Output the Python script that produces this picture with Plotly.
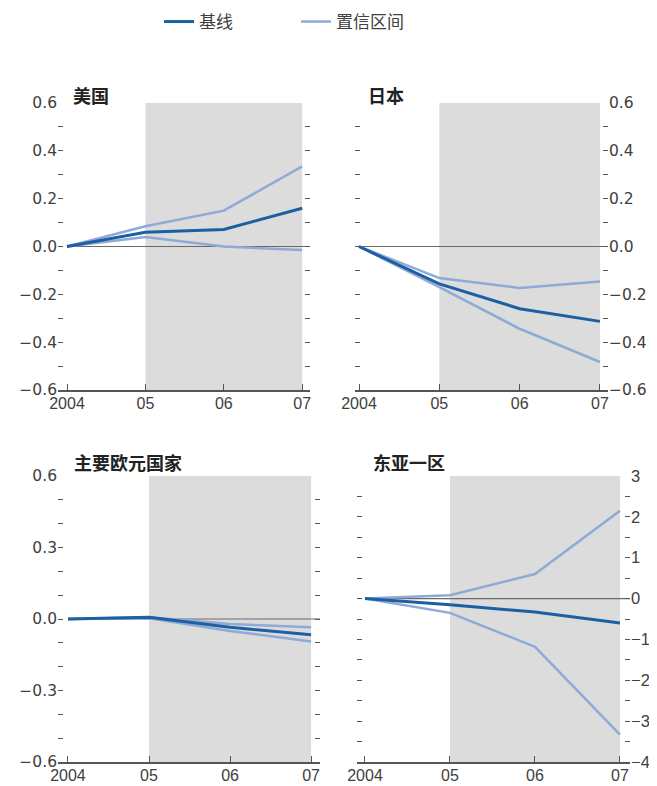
import plotly.graph_objects as go

# ---------------- data ----------------
years = [2004, 2005, 2006, 2007]
x_ticktext = ["2004", "05", "06", "07"]

panel_titles = ["美国", "日本", "主要欧元国家", "东亚一区"]

us_base = [0.0, 0.06, 0.071, 0.16]
us_upper = [0.0, 0.085, 0.15, 0.335]
us_lower = [0.0, 0.04, 0.0, -0.015]

jp_base = [0.0, -0.156, -0.26, -0.313]
jp_upper = [0.0, -0.132, -0.173, -0.146]
jp_lower = [0.0, -0.17, -0.344, -0.483]

eu_base = [0.0, 0.007, -0.035, -0.066]
eu_upper = [0.0, 0.007, -0.021, -0.035]
eu_lower = [0.0, 0.003, -0.05, -0.094]

ea_base = [0.0, -0.15, -0.33, -0.6]
ea_upper = [0.0, 0.08, 0.6, 2.15]
ea_lower = [0.0, -0.35, -1.18, -3.33]

series_names = ["基线", "置信区间"]

# y tick settings per panel: (all tick values, labelled values, labels)
y_ticks = [
    ([round(-0.6 + 0.1 * i, 1) for i in range(13)], [0.6, 0.4, 0.2, 0.0, -0.2, -0.4, -0.6],
     ["0.6", "0.4", "0.2", "0.0", "−0.2", "−0.4", "−0.6"]),
    ([round(-0.6 + 0.1 * i, 1) for i in range(13)], [0.6, 0.4, 0.2, 0.0, -0.2, -0.4, -0.6],
     ["0.6", "0.4", "0.2", "0.0", "−0.2", "−0.4", "−0.6"]),
    ([round(-0.6 + 0.1 * i, 1) for i in range(13)], [0.6, 0.3, 0.0, -0.3, -0.6],
     ["0.6", "0.3", "0.0", "−0.3", "−0.6"]),
    ([-4 + 0.5 * i for i in range(15)], [3, 2, 1, 0, -1, -2, -3, -4],
     ["3", "2", "1", "0", "−1", "−2", "−3", "−4"]),
]
y_ranges = [(-0.6, 0.6), (-0.6, 0.6), (-0.6, 0.6), (-4, 3)]

# ---------------- style / layout ----------------
PAGE_W, PAGE_H = 657, 786
OFF = 8  # default body margin of the html page
W, H = PAGE_W - OFF, PAGE_H - OFF
BASE_COL = "#1c5fa3"
CI_COL = "#8eaad6"
SHADE = "#dcdcdc"
TXT = "#404040"
AX = "#555555"
XFONT = "Liberation Sans, Arial, sans-serif"
YFONT = "DejaVu Sans, sans-serif"
CJK = "Noto Sans CJK SC, sans-serif"


def px(x):
    return (x - OFF) / W


def py(y):
    return 1 - (y - OFF) / H


# page-pixel geometry: (x0, x1, y_top, y_bottom, x_range_lo, x_range_hi, side, y font, y font size)
geo = [
    (58, 310, 103, 390, 2003.885, 2007.10, "left", YFONT, 15.5),
    (355, 608, 103, 390, 2003.95, 2007.10, "right", YFONT, 15.5),
    (58, 320, 476, 762, 2003.877, 2007.11, "left", YFONT, 15.5),
    (357, 630, 476, 762, 2003.906, 2007.118, "right", XFONT, 16.5),
]
title_pos = [(71, 95), (366, 95), (72, 462), (371, 462)]

data = [
    (us_base, us_upper, us_lower),
    (jp_base, jp_upper, jp_lower),
    (eu_base, eu_upper, eu_lower),
    (ea_base, ea_upper, ea_lower),
]

fig = go.Figure()
layout = dict(
    width=W, height=H,
    margin=dict(l=0, r=0, t=0, b=0, autoexpand=False),
    paper_bgcolor="white", plot_bgcolor="rgba(0,0,0,0)",
    showlegend=True,
    legend=dict(orientation="h", x=px(165 - 6), xanchor="left", y=py(4), yanchor="top",
                font=dict(family=CJK, size=17, color=TXT),
                tracegroupgap=0, entrywidth=92),
    shapes=[], annotations=[],
)

for i, (base, upper, lower) in enumerate(data):
    n = "" if i == 0 else str(i + 1)
    xa, ya = "x" + n, "y" + n
    x0, x1, yt, yb, xlo, xhi, side, yfam, ysize = geo[i]
    ymin, ymax = y_ranges[i]
    tv_all, tv_lab, tt_lab = y_ticks[i]
    ticktext = []
    for v in tv_all:
        lab = ""
        for lv, lt in zip(tv_lab, tt_lab):
            if abs(lv - v) < 1e-9:
                lab = lt
        ticktext.append(lab)

    layout["xaxis" + n] = dict(
        domain=[px(x0), px(x1)], range=[xlo, xhi], anchor=ya, automargin=False,
        tickvals=years, ticktext=x_ticktext, ticks="inside", ticklen=6,
        tickcolor=AX, tickwidth=1.2, showline=True, linecolor=AX, linewidth=1.5,
        showgrid=False, zeroline=False, ticklabelstandoff=-2,
        tickfont=dict(family=XFONT, size=16, color=TXT),
    )
    layout["yaxis" + n] = dict(
        domain=[py(yb), py(yt)], range=[ymin, ymax], anchor=xa, automargin=False,
        side=side, tickvals=tv_all, ticktext=ticktext, ticks="inside", ticklen=5,
        tickcolor=AX, tickwidth=1.2, mirror="ticks", showline=False,
        showgrid=False, zeroline=False,
        tickfont=dict(family=yfam, size=ysize, color=TXT),
    )
    # shaded projection period
    layout["shapes"].append(dict(type="rect", xref=xa, yref=ya + " domain",
                                 x0=2005, x1=2007, y0=0, y1=1,
                                 fillcolor=SHADE, line=dict(width=0), layer="below"))
    # zero line
    layout["shapes"].append(dict(type="line", xref=xa, yref=ya,
                                 x0=2004, x1=xhi, y0=0, y1=0,
                                 line=dict(color="#6a6a6a", width=1.2), layer="below"))
    # panel title
    tx, ty = title_pos[i]
    layout["annotations"].append(dict(text="<b>" + panel_titles[i] + "</b>",
                                      xref="paper", yref="paper",
                                      x=px(tx), y=py(ty), xanchor="left", yanchor="middle",
                                      showarrow=False,
                                      font=dict(family=CJK, size=18, color="#222222")))

    fig.add_trace(go.Scatter(x=years, y=upper, mode="lines", xaxis=xa, yaxis=ya,
                             line=dict(color=CI_COL, width=2.5), name=series_names[1],
                             legendgroup="ci", showlegend=False, hoverinfo="skip"))
    fig.add_trace(go.Scatter(x=years, y=lower, mode="lines", xaxis=xa, yaxis=ya,
                             line=dict(color=CI_COL, width=2.5), name=series_names[1],
                             legendgroup="ci", showlegend=False, hoverinfo="skip"))
    fig.add_trace(go.Scatter(x=years, y=base, mode="lines", xaxis=xa, yaxis=ya,
                             line=dict(color=BASE_COL, width=3), name=series_names[0],
                             legendgroup="base", showlegend=False, hoverinfo="skip"))

# legend-only entries (baseline first)
fig.add_trace(go.Scatter(x=[None], y=[None], mode="lines", name=series_names[0],
                         line=dict(color=BASE_COL, width=3), legendgroup="base"))
fig.add_trace(go.Scatter(x=[None], y=[None], mode="lines", name=series_names[1],
                         line=dict(color=CI_COL, width=2.5), legendgroup="ci"))

fig.update_layout(**layout)
fig.write_html("out.html")
